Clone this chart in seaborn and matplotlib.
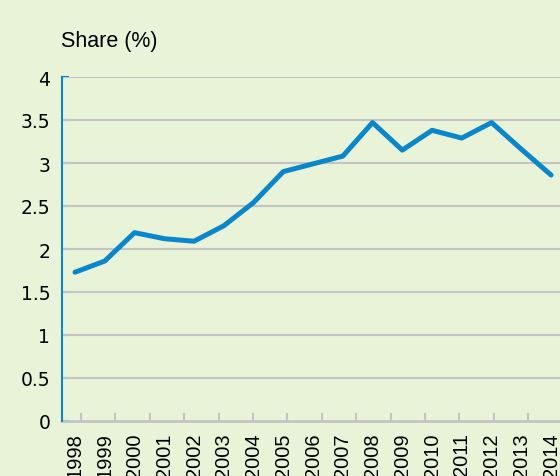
import numpy as np
import pandas as pd
import matplotlib
matplotlib.use("Agg")
import matplotlib.pyplot as plt
import seaborn as sns
from matplotlib.ticker import FixedLocator

years = ["1998", "1999", "2000", "2001", "2002", "2003", "2004", "2005", "2006",
         "2007", "2008", "2009", "2010", "2011", "2012", "2013", "2014"]
share = [1.73, 1.86, 2.19, 2.12, 2.09, 2.27, 2.54, 2.90, 2.99,
         3.08, 3.47, 3.15, 3.38, 3.29, 3.47, 3.16, 2.86]
y_ticks = [0, 0.5, 1, 1.5, 2, 2.5, 3, 3.5, 4]
y_labels = ["0", "0.5", "1", "1.5", "2", "2.5", "3", "3.5", "4"]

df = pd.DataFrame({"pos": range(len(years)), "share": share})

bg = "#E9F3D8"
blue = "#0A87CA"
grey = "#C4C4C4"

sns.set_style("white")
plt.rcParams["font.family"] = ["Liberation Sans", "DejaVu Sans"]
plt.rcParams["text.color"] = "black"
plt.rcParams["xtick.color"] = "black"
plt.rcParams["ytick.color"] = "black"

fig = plt.figure(figsize=(5.6, 4.77), dpi=100, facecolor=bg)
ax = fig.add_axes([62 / 560, 1 - 422 / 477, 1 - 62 / 560, (422 - 78) / 477])
ax.set_facecolor(bg)

for v in y_ticks[1:]:
    ax.axhline(v, color=grey, lw=1.5, zorder=1)

sns.lineplot(data=df, x="pos", y="share", color=blue, lw=3.6, ax=ax, zorder=3)

ax.set_xlim(-0.437, 16.30)
ax.set_ylim(0, 4)
ax.set_xlabel("")
ax.set_ylabel("")

ax.set_yticks(y_ticks)
ax.set_yticklabels(y_labels, fontsize=13.5, family="DejaVu Sans")
ax.tick_params(axis="y", left=True, direction="in", length=5, width=1.5,
               color=blue, labelcolor="black", pad=8.5)

ax.set_xticks(range(len(years)))
ax.set_xticklabels(years, rotation=90, fontsize=14.5)
ax.tick_params(axis="x", which="major", bottom=True, length=0, pad=8, labelcolor="black")
ax.xaxis.set_minor_locator(FixedLocator(np.arange(0.2017, 16.3, 1.1563)))
ax.tick_params(axis="x", which="minor", bottom=True, direction="in", length=6,
               width=1.5, color=grey)

for s in ["top", "right"]:
    ax.spines[s].set_visible(False)
ax.spines["left"].set_color(blue)
ax.spines["left"].set_linewidth(1.5)
ax.spines["bottom"].set_color(grey)
ax.spines["bottom"].set_linewidth(2)
ax.spines["left"].set_zorder(4)

fig.text(61 / 560, 1 - 42 / 477, "Share (%)", fontsize=15.5, va="center", ha="left",
         color="black")

fig.savefig("out.png", dpi=100, facecolor=bg)
